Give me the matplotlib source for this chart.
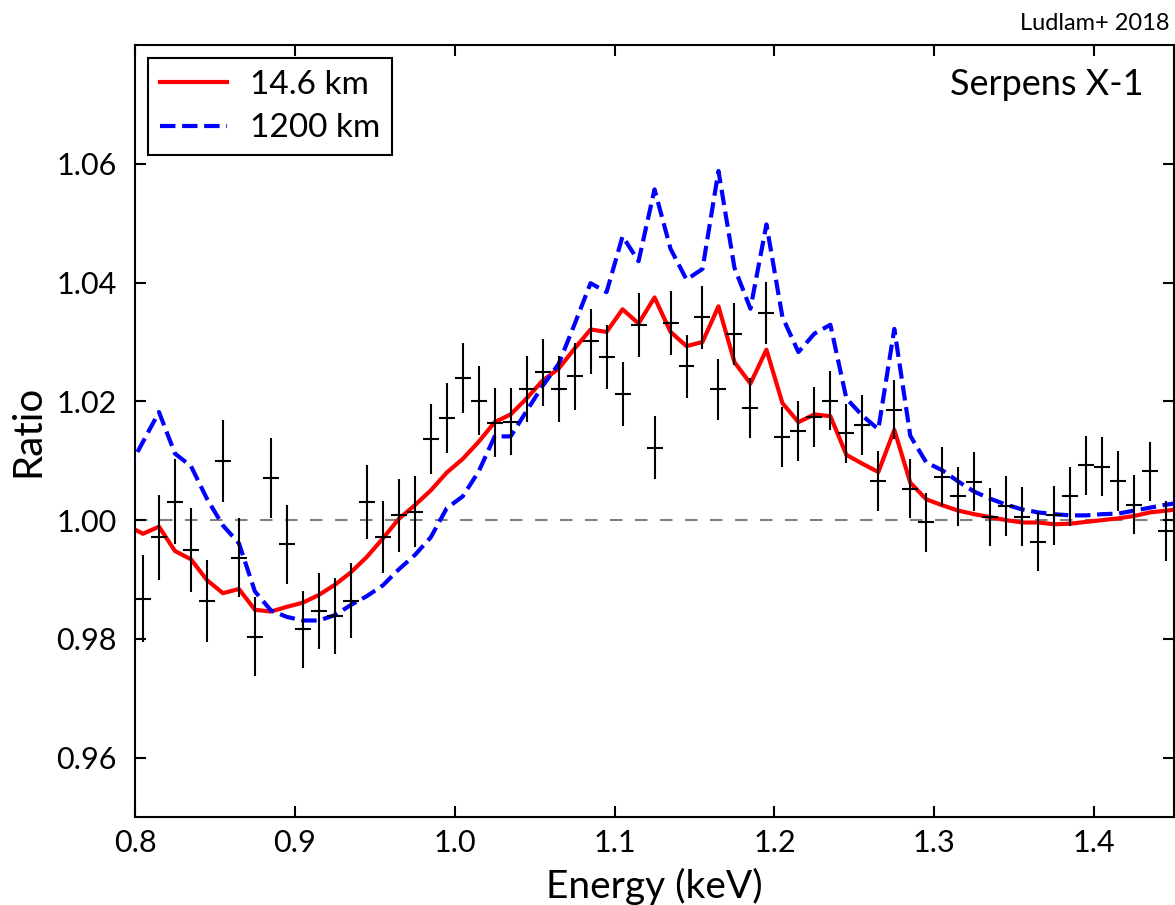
import matplotlib
matplotlib.use('Agg')
import matplotlib.pyplot as plt
import numpy as np

plt.rcParams['font.family'] = ['Lato', 'DejaVu Sans']

# data bins (keV) and ratio
energy = [0.805, 0.815, 0.825, 0.835, 0.845, 0.855, 0.865, 0.875, 0.885, 0.895,
          0.905, 0.915, 0.925, 0.935, 0.945, 0.955, 0.965, 0.975, 0.985, 0.995,
          1.005, 1.015, 1.025, 1.035, 1.045, 1.055, 1.065, 1.075, 1.085, 1.095,
          1.105, 1.115, 1.125, 1.135, 1.145, 1.155, 1.165, 1.175, 1.185, 1.195,
          1.205, 1.215, 1.225, 1.235, 1.245, 1.255, 1.265, 1.275, 1.285, 1.295,
          1.305, 1.315, 1.325, 1.335, 1.345, 1.355, 1.365, 1.375, 1.385, 1.395,
          1.405, 1.415, 1.425, 1.435, 1.445]
ratio = [0.9868, 0.9971, 1.0031, 0.9950, 0.9864, 1.0099, 0.9937, 0.9804, 1.0071, 0.9959,
         0.9816, 0.9847, 0.9839, 0.9864, 1.0030, 0.9972, 1.0008, 1.0014, 1.0137, 1.0172,
         1.0239, 1.0201, 1.0164, 1.0166, 1.0221, 1.0249, 1.0221, 1.0242, 1.0301, 1.0275,
         1.0213, 1.0329, 1.0122, 1.0332, 1.0259, 1.0342, 1.0220, 1.0314, 1.0189, 1.0349,
         1.0140, 1.0150, 1.0174, 1.0201, 1.0146, 1.0160, 1.0066, 1.0186, 1.0053, 0.9996,
         1.0073, 1.0040, 1.0065, 1.0005, 1.0024, 1.0006, 0.9964, 1.0008, 1.0040, 1.0092,
         1.0090, 1.0066, 1.0026, 1.0082, 0.9982]
ratio_err = [0.0073, 0.0072, 0.0072, 0.0071, 0.0069, 0.0069, 0.0067, 0.0067, 0.0067, 0.0066,
             0.0065, 0.0064, 0.0064, 0.0063, 0.0062, 0.0061, 0.0061, 0.0060, 0.0059, 0.0059,
             0.0059, 0.0058, 0.0058, 0.0057, 0.0056, 0.0056, 0.0056, 0.0056, 0.0055, 0.0054,
             0.0054, 0.0054, 0.0053, 0.0054, 0.0053, 0.0053, 0.0052, 0.0052, 0.0051, 0.0052,
             0.0051, 0.0051, 0.0051, 0.0050, 0.0050, 0.0050, 0.0050, 0.0050, 0.0050, 0.0050,
             0.0050, 0.0050, 0.0050, 0.0049, 0.0050, 0.0049, 0.0049, 0.0050, 0.0050, 0.0050,
             0.0050, 0.0050, 0.0050, 0.0050, 0.0050]
bin_halfwidth = 0.005

# model curves
model_energy = [0.795] + energy + [1.455]
model_14km = [0.9991, 0.9977, 0.9989, 0.9948, 0.9934, 0.9899, 0.9877, 0.9884, 0.9849, 0.9846,
              0.9854, 0.9861, 0.9874, 0.9891, 0.9912, 0.9938, 0.9969, 1.0002, 1.0025, 1.0050,
              1.0080, 1.0103, 1.0132, 1.0165, 1.0178, 1.0205, 1.0235, 1.0255, 1.0289, 1.0321,
              1.0317, 1.0355, 1.0331, 1.0375, 1.0317, 1.0293, 1.0300, 1.0360, 1.0266, 1.0230,
              1.0287, 1.0197, 1.0165, 1.0178, 1.0175, 1.0110, 1.0095, 1.0081, 1.0152, 1.0063,
              1.0035, 1.0025, 1.0016, 1.0010, 1.0005, 1.0000, 0.9996, 0.9996, 0.9993, 0.9994,
              0.9997, 1.0000, 1.0003, 1.0007, 1.0013, 1.0016, 1.0019]
model_1200km = [1.0082, 1.0132, 1.0182, 1.0112, 1.0091, 1.0036, 0.9991, 0.9961, 0.9880, 0.9848,
                0.9837, 0.9831, 0.9831, 0.9840, 0.9857, 0.9872, 0.9890, 0.9917, 0.9941, 0.9971,
                1.0020, 1.0040, 1.0082, 1.0141, 1.0141, 1.0184, 1.0226, 1.0263, 1.0330, 1.0399,
                1.0384, 1.0478, 1.0436, 1.0557, 1.0457, 1.0405, 1.0423, 1.0588, 1.0425, 1.0356,
                1.0498, 1.0342, 1.0283, 1.0314, 1.0329, 1.0205, 1.0176, 1.0153, 1.0322, 1.0142,
                1.0097, 1.0084, 1.0065, 1.0048, 1.0036, 1.0026, 1.0018, 1.0013, 1.0010, 1.0008,
                1.0008, 1.0010, 1.0011, 1.0016, 1.0021, 1.0026, 1.0030]

xticks = [0.8, 0.9, 1.0, 1.1, 1.2, 1.3, 1.4]
yticks = [0.96, 0.98, 1.00, 1.02, 1.04, 1.06]

fig = plt.figure(figsize=(11.75, 9.05), dpi=100)
ax = fig.add_axes([0.1149, 0.0972, 0.8843, 0.8530])

ax.axhline(1.0, color='gray', lw=1.5, ls=(0, (6, 6)), zorder=1)
ax.plot(model_energy, model_14km, color='red', lw=3, label='14.6 km', zorder=2)
ax.plot(model_energy, model_1200km, color='blue', lw=3, ls='--', label='1200 km', zorder=3)
ax.errorbar(energy, ratio, yerr=ratio_err, xerr=bin_halfwidth, fmt='none',
            ecolor='black', elinewidth=1.5, capsize=0, zorder=4)

ax.set_xlim(0.8, 1.45)
ax.set_ylim(0.95, 1.08)
ax.set_xticks(xticks)
ax.set_yticks(yticks)
ax.set_xticklabels(['%.1f' % t for t in xticks])
ax.set_yticklabels(['%.2f' % t for t in yticks])
ax.tick_params(direction='in', top=True, right=True, length=8, width=1.5, labelsize=22)
ax.tick_params(axis='x', pad=8.5)
ax.tick_params(axis='y', pad=13)
for s in ax.spines.values():
    s.set_linewidth(1.5)

ax.set_xlabel('Energy (keV)', fontsize=28, labelpad=8)
ax.set_ylabel('Ratio', fontsize=29, labelpad=7)

leg = ax.legend(loc='upper left', fontsize=24, fancybox=False, framealpha=1,
                edgecolor='black', handlelength=2.0, handletextpad=0.7,
                borderaxespad=0.4, borderpad=0.35, labelspacing=0.4)
leg.get_frame().set_linewidth(1.5)

ax.text(0.971, 0.935, 'Serpens X-1', transform=ax.transAxes, ha='right',
        va='baseline', fontsize=26)
fig.text(0.995, 1 - 30 / 905, 'Ludlam+ 2018', ha='right', va='baseline', fontsize=17)

fig.savefig('out.png', dpi=100)
